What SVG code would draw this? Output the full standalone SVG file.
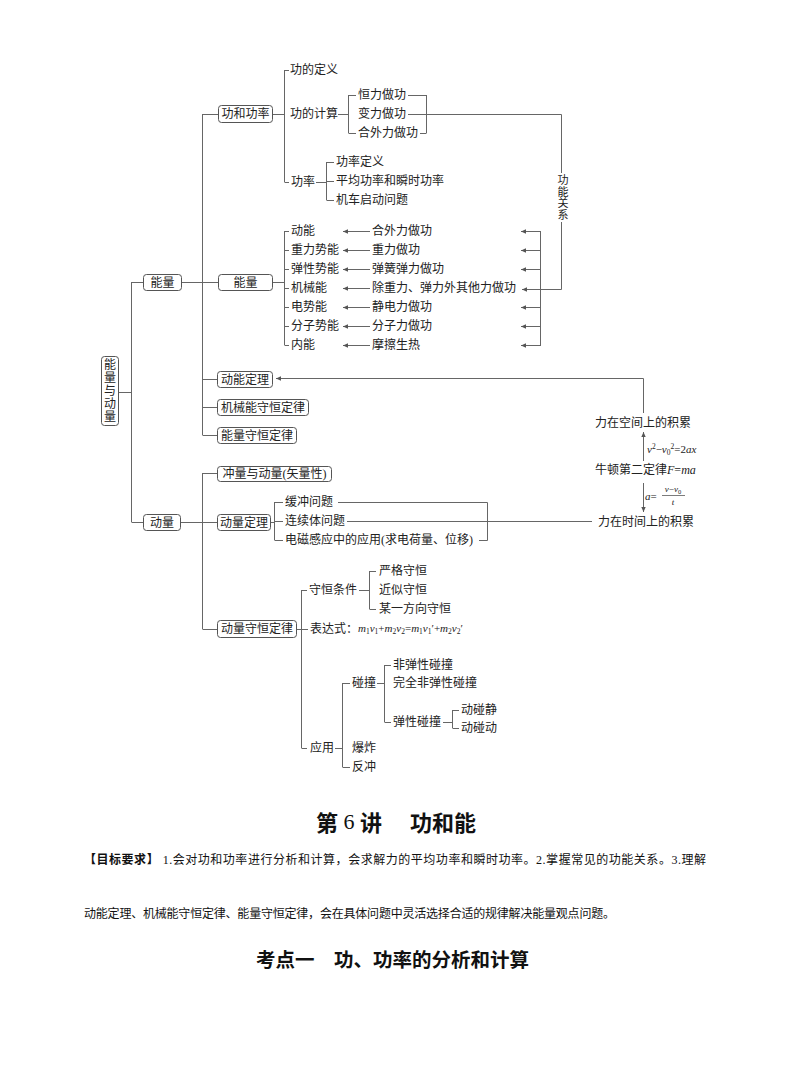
<svg xmlns="http://www.w3.org/2000/svg" width="794" height="1077" viewBox="0 0 794 1077">
<defs>
<style>
.t{font-family:"Liberation Serif","Noto Sans CJK SC",serif;font-size:12px;fill:#222;dominant-baseline:central}
.v{font-family:"Liberation Serif","Noto Sans CJK SC",serif;font-size:12px;fill:#222;text-anchor:middle;dominant-baseline:central}
.f{font-family:"Liberation Serif",serif;font-size:11px;font-style:italic;fill:#222}
.n{font-style:normal}
.s{font-size:7.5px;font-style:normal}
.ln{stroke:#666;stroke-width:1;fill:none}
.bx{fill:#fff;stroke:#555;stroke-width:1}
.h{font-family:"Noto Sans CJK SC",sans-serif;font-weight:bold;fill:#111;dominant-baseline:central}
.p{font-family:"Liberation Serif","Noto Sans CJK SC",serif;font-size:12px;fill:#111;dominant-baseline:central}
</style>
<marker id="ah" markerWidth="6" markerHeight="6" refX="5" refY="3" orient="auto" markerUnits="userSpaceOnUse"><path d="M0,0.8 L5,3 L0,5.2 z" fill="#555"/></marker>
</defs>
<rect width="794" height="1077" fill="#fff"/>

<g id="connectors">
<path class="ln" d="M118 392.5H131.5M131.5 282V522M131.5 282.5H143M131.5 522.5H143"/>
<path class="ln" d="M182 282.5H218M202.5 114V435M202.5 114.5H218M202.5 379.5H217M202.5 407.5H217M202.5 435.5H217"/>
<path class="ln" d="M273 114.5H284.5M284.5 70V182M284.5 70.5H289M284.5 182.5H289"/>
<path class="ln" d="M338 114.5H348.5M348.5 95V133M348.5 95.5H356M348.5 133.5H356"/>
<path class="ln" d="M408 95.5H426.5M420 133.5H426.5M426.5 95V133"/>
<path class="ln" d="M408 114.5H561.5V173M561.5 222V289.5H522" marker-end="url(#ah)"/>
<path class="ln" d="M316 182.5H326.5M326.5 162V200M326.5 162.5H334M326.5 181.5H334M326.5 200.5H334"/>
<path class="ln" d="M273 282.5H284.5M284.5 231V345M284.5 231.5H289M284.5 250.5H289M284.5 269.5H289M284.5 288.5H289M284.5 307.5H289M284.5 326.5H289M284.5 345.5H289"/>
<g class="ln" marker-end="url(#ah)">
<path d="M370 231.5H343"/><path d="M370 250.5H343"/><path d="M370 269.5H343"/><path d="M370 288.5H343"/><path d="M370 307.5H343"/><path d="M370 326.5H343"/><path d="M370 345.5H343"/>
<path d="M540.5 231.5H521"/><path d="M540.5 250.5H521"/><path d="M540.5 269.5H521"/><path d="M540.5 307.5H521"/><path d="M540.5 326.5H521"/><path d="M540.5 345.5H521"/>
</g>
<path class="ln" d="M540.5 231V346"/>
<path class="ln" d="M643.5 413V378.5H276" marker-end="url(#ah)"/>
<path class="ln" d="M643.5 461V432" marker-end="url(#ah)"/>
<path class="ln" d="M643.5 483V512" marker-end="url(#ah)"/>
<path class="ln" d="M181 522.5H217M202.5 473V629M202.5 473.5H217M202.5 629.5H217"/>
<path class="ln" d="M271 522.5H274.5M274.5 502V540M274.5 502.5H283M274.5 521.5H283M274.5 540.5H283"/>
<path class="ln" d="M338 502.5H487.5V540.5H479M347 521.5H592"/>
<path class="ln" d="M297 629.5H301.5M301.5 590V748M301.5 590.5H307M301.5 629.5H308M301.5 748.5H307"/>
<path class="ln" d="M359 590.5H369.5M369.5 571V609M369.5 571.5H376M369.5 609.5H376"/>
<path class="ln" d="M335 748.5H342.5M342.5 683V767M342.5 683.5H350M342.5 767.5H350"/>
<path class="ln" d="M377 683.5H384.5M384.5 665V722M384.5 665.5H391M384.5 722.5H391"/>
<path class="ln" d="M443 722.5H452.5M452.5 710V728M452.5 710.5H459M452.5 728.5H459"/>
</g>

<g id="root"><rect class="bx" x="101.5" y="356.5" width="17" height="69" rx="3"/>
<text class="v" x="110" y="365">能</text><text class="v" x="110" y="378">量</text><text class="v" x="110" y="391">与</text><text class="v" x="110" y="404">动</text><text class="v" x="110" y="417">量</text></g>

<g id="nengliang1"><rect class="bx" x="143.5" y="274.5" width="38" height="16" rx="3"/><text class="v" x="162.5" y="282.5">能量</text></g>
<g id="gonghegonglv"><rect class="bx" x="218.5" y="105.5" width="54" height="17" rx="3"/><text class="v" x="245.5" y="114">功和功率</text></g>
<g id="nengliang2"><rect class="bx" x="218.5" y="274.5" width="54" height="16" rx="3"/><text class="v" x="245.5" y="282.5">能量</text></g>
<g id="dongnengdingli"><rect class="bx" x="217.5" y="371.5" width="55" height="16" rx="3"/><text class="v" x="245" y="379.5">动能定理</text></g>
<g id="jixieneng"><rect class="bx" x="217.5" y="399.5" width="91" height="16" rx="3"/><text class="v" x="263" y="407.5">机械能守恒定律</text></g>
<g id="nengliangshouheng"><rect class="bx" x="217.5" y="427.5" width="79" height="16" rx="3"/><text class="v" x="257" y="435.5">能量守恒定律</text></g>
<g id="dongliang"><rect class="bx" x="143.5" y="514.5" width="37" height="16" rx="3"/><text class="v" x="162" y="522.5">动量</text></g>
<g id="chongliang"><rect class="bx" x="217.5" y="466.5" width="114" height="15" rx="3"/><text class="v" x="274.5" y="474">冲量与动量(矢量性)</text></g>
<g id="dongliangdingli"><rect class="bx" x="217.5" y="514.5" width="53" height="16" rx="3"/><text class="v" x="244" y="522.5">动量定理</text></g>
<g id="dongliangshouheng"><rect class="bx" x="217.5" y="620.5" width="79" height="17" rx="3"/><text class="v" x="257" y="629">动量守恒定律</text></g>

<g id="gong-items">
<text class="t" x="290" y="70">功的定义</text>
<text class="t" x="290" y="114">功的计算</text>
<text class="t" x="291" y="182">功率</text>
<text class="t" x="358" y="95">恒力做功</text>
<text class="t" x="358" y="114">变力做功</text>
<text class="t" x="358" y="133">合外力做功</text>
<text class="t" x="336" y="162">功率定义</text>
<text class="t" x="336" y="181">平均功率和瞬时功率</text>
<text class="t" x="336" y="200">机车启动问题</text>
</g>
<g id="gongnengguanxi"><rect x="556" y="173" width="14" height="49" fill="#fff"/>
<text class="v" x="563" y="180" style="font-size:11px">功</text><text class="v" x="563" y="191.5" style="font-size:11px">能</text><text class="v" x="563" y="203" style="font-size:11px">关</text><text class="v" x="563" y="214.5" style="font-size:11px">系</text></g>
<g id="energy-forms">
<text class="t" x="291" y="231">动能</text>
<text class="t" x="291" y="250">重力势能</text>
<text class="t" x="291" y="269">弹性势能</text>
<text class="t" x="291" y="288">机械能</text>
<text class="t" x="291" y="307">电势能</text>
<text class="t" x="291" y="326">分子势能</text>
<text class="t" x="291" y="345">内能</text>
</g>
<g id="work-forms">
<text class="t" x="372" y="231">合外力做功</text>
<text class="t" x="372" y="250">重力做功</text>
<text class="t" x="372" y="269">弹簧弹力做功</text>
<text class="t" x="372" y="288">除重力、弹力外其他力做功</text>
<text class="t" x="372" y="307">静电力做功</text>
<text class="t" x="372" y="326">分子力做功</text>
<text class="t" x="372" y="345">摩擦生热</text>
</g>
<g id="accumulation">
<text class="v" x="643" y="423">力在空间上的积累</text>
<text class="f" x="647" y="453">v<tspan class="s" dy="-4">2</tspan><tspan class="n" dy="4">−</tspan>v<tspan class="s" dy="2">0</tspan><tspan class="s" dy="-6">2</tspan><tspan class="n" dy="4">=2</tspan>ax</text>
<text class="t" x="595" y="470">牛顿第二定律<tspan style="font-style:italic">F</tspan>=<tspan style="font-style:italic">ma</tspan></text>
<text class="f" x="645" y="500">a<tspan class="n">=</tspan></text>
<text class="f" x="673" y="492" text-anchor="middle" style="font-size:9px">v<tspan class="n">−</tspan>v<tspan class="s" style="font-size:6.5px" dy="1.5">0</tspan></text>
<path d="M662 495.5H685" stroke="#444" stroke-width="0.7"/>
<text class="f" x="673" y="505" text-anchor="middle" style="font-size:9px">t</text>
<text class="t" x="598" y="522">力在时间上的积累</text>
</g>
<g id="dongliang-items">
<text class="t" x="285" y="502">缓冲问题</text>
<text class="t" x="285" y="521">连续体问题</text>
<text class="t" x="285" y="540">电磁感应中的应用(求电荷量、位移)</text>
<text class="t" x="309" y="590">守恒条件</text>
<text class="t" x="379" y="571">严格守恒</text>
<text class="t" x="379" y="590">近似守恒</text>
<text class="t" x="379" y="609">某一方向守恒</text>
<text class="t" x="310" y="629">表达式：</text>
<text class="f" x="358" y="632">m<tspan class="s" dy="2">1</tspan><tspan dy="-2">v</tspan><tspan class="s" dy="2">1</tspan><tspan class="n" dy="-2">+</tspan>m<tspan class="s" dy="2">2</tspan><tspan dy="-2">v</tspan><tspan class="s" dy="2">2</tspan><tspan class="n" dy="-2">=</tspan>m<tspan class="s" dy="2">1</tspan><tspan dy="-2">v</tspan><tspan class="s" dy="2">1</tspan><tspan class="n" dy="-2">′+</tspan>m<tspan class="s" dy="2">2</tspan><tspan dy="-2">v</tspan><tspan class="s" dy="2">2</tspan><tspan class="n" dy="-2">′</tspan></text>
<text class="t" x="310" y="748">应用</text>
<text class="t" x="352" y="683">碰撞</text>
<text class="t" x="352" y="748">爆炸</text>
<text class="t" x="352" y="767">反冲</text>
<text class="t" x="393" y="665">非弹性碰撞</text>
<text class="t" x="393" y="683">完全非弹性碰撞</text>
<text class="t" x="393" y="722">弹性碰撞</text>
<text class="t" x="461" y="710">动碰静</text>
<text class="t" x="461" y="728">动碰动</text>
</g>

<g id="title">
<text class="h" x="316" y="821" style="font-size:22px">第<tspan style="font-family:'Liberation Serif',serif;font-weight:normal"> 6 </tspan>讲</text>
<text class="h" x="410" y="821" style="font-size:22px">功和能</text>
</g>
<g id="goals">
<text class="p" x="84" y="860" textLength="622" lengthAdjust="spacing"><tspan style="font-weight:bold">【目标要求】</tspan> 1.会对功和功率进行分析和计算，会求解力的平均功率和瞬时功率。2.掌握常见的功能关系。3.理解</text>
<text class="p" x="84" y="914" textLength="531" lengthAdjust="spacing">动能定理、机械能守恒定律、能量守恒定律，会在具体问题中灵活选择合适的规律解决能量观点问题。</text>
</g>
<g id="section"><text class="h" x="256" y="958" style="font-size:19.5px">考点一　功、功率的分析和计算</text></g>
</svg>
